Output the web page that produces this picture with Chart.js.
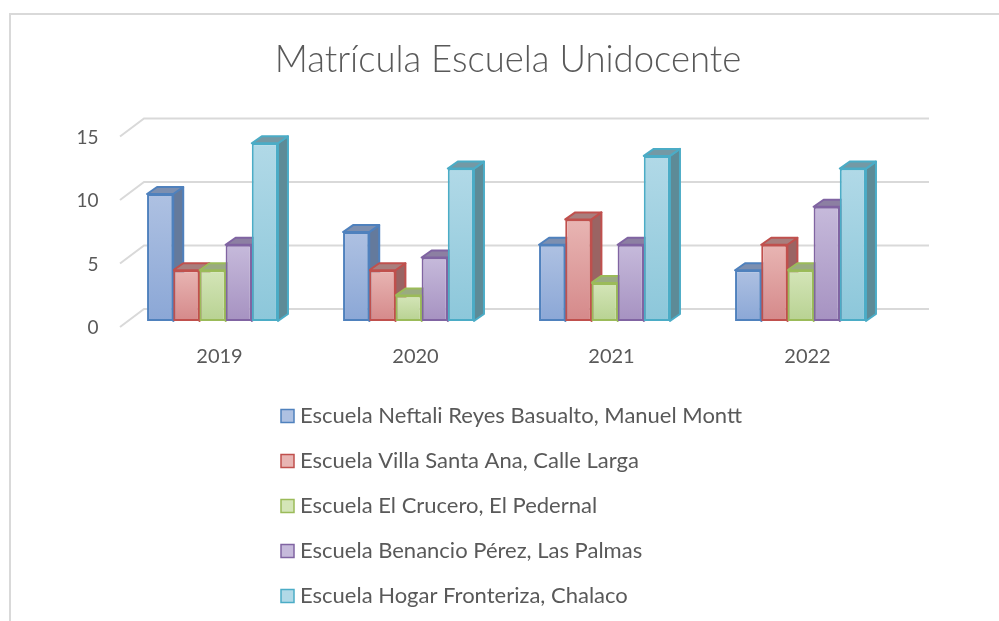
<!DOCTYPE html>
<html>
<head>
<meta charset="utf-8">
<script src="https://cdn.jsdelivr.net/npm/chart.js@4/dist/chart.umd.min.js"></script>
<style>
  body { margin: 0; background: #fff; }
  #wrap { width: 999px; height: 621px; }
</style>
</head>
<body>
<div id="wrap"><canvas id="chart" width="999" height="621"></canvas></div>
<script>
const years = ["2019", "2020", "2021", "2022"];
const seriesNames = [
  "Escuela Neftali Reyes Basualto, Manuel Montt",
  "Escuela Villa Santa Ana, Calle Larga",
  "Escuela El Crucero, El Pedernal",
  "Escuela Benancio Pérez, Las Palmas",
  "Escuela Hogar Fronteriza, Chalaco"
];
const neftali = [10, 7, 6, 4];
const villaSantaAna = [4, 4, 8, 6];
const crucero = [4, 2, 3, 4];
const benancio = [6, 5, 6, 9];
const hogar = [14, 12, 13, 12];
const yTicks = [0, 5, 10, 15];

// colours: border, face top, face bottom, side, top face
const palette = [
  ["#4f81bd", "#aec1e2", "#8ba7d6", "#647a9c", "#7c8fb0"],
  ["#c0504d", "#e8b5b3", "#d5898a", "#9a6463", "#a87e7d"],
  ["#9bbb59", "#d4e5b8", "#b8d292", "#84966b", "#9aab80"],
  ["#8064a2", "#c6badb", "#a692c1", "#74688a", "#8c7fa2"],
  ["#4bacc6", "#b1d9e7", "#8cc7da", "#5d8b97", "#7499a5"]
];
const txt = "#595959";
const grid = "#d9d9d9";
const depth = { dx: 10, dy: -7 };

function faceFill(c, i) {
  const chart = c.chart;
  const ys = chart.scales.y;
  if (!chart.chartArea || !ys || c.raw === undefined) return palette[i][2];
  const top = ys.getPixelForValue(c.raw);
  const base = ys.getPixelForValue(0);
  const g = chart.ctx.createLinearGradient(0, top, 0, base);
  g.addColorStop(0, palette[i][1]);
  g.addColorStop(1, palette[i][2]);
  return g;
}

const allSeries = [neftali, villaSantaAna, crucero, benancio, hogar];
const datasets = allSeries.map((vals, i) => ({
  label: seriesNames[i],
  data: vals,
  backgroundColor: c => faceFill(c, i),
  borderColor: palette[i][0],
  borderWidth: 2,
  borderSkipped: false,
  categoryPercentage: 0.668,
  barPercentage: 1
}));

const frame = {
  id: "frame",
  beforeDraw(chart) {
    const c = chart.ctx;
    c.save();
    c.strokeStyle = grid;
    c.lineWidth = 2;
    c.beginPath();
    c.moveTo(10, 621);
    c.lineTo(10, 14);
    c.lineTo(999, 14);
    c.stroke();
    c.restore();
  }
};

const bars3d = {
  id: "bars3d",
  beforeDatasetsDraw(chart) {
    const c = chart.ctx;
    const ys = chart.scales.y;
    const area = chart.chartArea;
    c.save();
    // back wall gridlines + floor edge
    c.strokeStyle = grid;
    c.lineWidth = 2;
    yTicks.forEach(v => {
      const py = ys.getPixelForValue(v);
      c.beginPath();
      c.moveTo(area.left + 5.5, py + 6);
      c.lineTo(area.left + 29.5, py - 12);
      c.lineTo(area.right + 30.5, py - 12);
      c.stroke();
    });
    // side and top faces
    c.lineWidth = 2;
    c.lineJoin = "round";
    chart.data.datasets.forEach((ds, i) => {
      const meta = chart.getDatasetMeta(i);
      meta.data.forEach(el => {
        const p = el.getProps(["x", "y", "base", "width"], true);
        const xl = p.x - p.width / 2, xr = p.x + p.width / 2;
        c.strokeStyle = palette[i][0];
        c.fillStyle = palette[i][3];
        c.beginPath();
        c.moveTo(xr, p.y);
        c.lineTo(xr + depth.dx, p.y + depth.dy);
        c.lineTo(xr + depth.dx, p.base + depth.dy);
        c.lineTo(xr, p.base);
        c.closePath();
        c.fill();
        c.stroke();
        c.fillStyle = palette[i][4];
        c.beginPath();
        c.moveTo(xl, p.y);
        c.lineTo(xl + depth.dx, p.y + depth.dy);
        c.lineTo(xr + depth.dx, p.y + depth.dy);
        c.lineTo(xr, p.y);
        c.closePath();
        c.fill();
        c.stroke();
      });
    });
    c.restore();
  }
};

const legendList = {
  id: "legendList",
  afterDraw(chart) {
    const c = chart.ctx;
    c.save();
    c.font = "22px Lato";
    c.textBaseline = "middle";
    chart.data.datasets.forEach((ds, i) => {
      const y = 416 + i * 45;
      c.fillStyle = palette[i][1];
      c.fillRect(281, y - 6.5, 13, 13);
      c.strokeStyle = palette[i][0];
      c.lineWidth = 1.5;
      c.strokeRect(281, y - 6.5, 13, 13);
      c.fillStyle = txt;
      c.fillText(ds.label, 300, y);
    });
    c.restore();
  }
};

new Chart(document.getElementById("chart"), {
  type: "bar",
  data: { labels: years, datasets },
  options: {
    responsive: false,
    animation: false,
    layout: { padding: { left: 17, right: 0, top: 0, bottom: 240 } },
    plugins: {
      legend: { display: false },
      tooltip: { enabled: false },
      title: {
        display: true,
        text: "Matrícula Escuela Unidocente",
        color: txt,
        font: { family: "Lato", size: 36.5, weight: 300 },
        padding: { top: 38, bottom: 48.7 }
      }
    },
    scales: {
      x: {
        grid: { display: false, drawTicks: false },
        border: { display: false },
        ticks: { color: txt, font: { family: "Lato", size: 20 }, padding: 24, labelOffset: 7, maxRotation: 0 },
        afterFit(s) { s.height = 60; }
      },
      y: {
        min: 0,
        max: 15,
        afterBuildTicks(s) { s.ticks = yTicks.map(v => ({ value: v })); },
        grid: { display: false, drawTicks: false },
        border: { display: false },
        ticks: { color: txt, font: { family: "Lato", size: 19 }, padding: 16, labelOffset: 7 },
        afterFit(s) { s.width = 97.5; }
      },
      // empty right-hand axis that only reserves room for the 3D depth
      yRight: {
        position: "right",
        min: 0,
        max: 15,
        grid: { display: false, drawTicks: false },
        border: { display: false },
        ticks: { display: false },
        afterFit(s) { s.width = 100.5; }
      }
    }
  },
  plugins: [frame, bars3d, legendList]
});
</script>
</body>
</html>
